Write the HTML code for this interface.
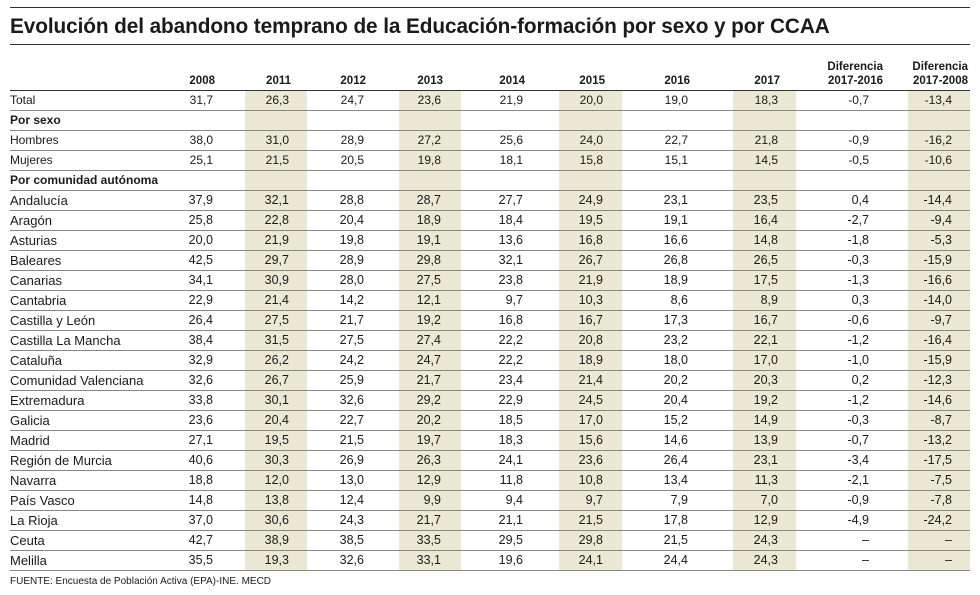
<!DOCTYPE html>
<html><head><meta charset="utf-8"><style>
body{margin:0;background:#fff;width:980px;height:595px;position:relative;overflow:hidden;font-family:"Liberation Sans",sans-serif;color:#1a1a1a}
.hl{position:absolute;left:10px;width:960px;background:#333}
.title{position:absolute;left:10px;top:15px;font-size:20.8px;font-weight:bold;letter-spacing:-0.1px;white-space:nowrap}
table{position:absolute;left:10px;top:55px;border-collapse:collapse;table-layout:fixed;width:960px}
td,th{padding:0;text-align:right;white-space:nowrap;overflow:visible}
th{font-size:11.5px;font-weight:bold;height:33px;vertical-align:bottom;padding-bottom:2px;line-height:14px;border-bottom:1.5px solid #333}
td{height:19px;font-size:12px;border-bottom:1px solid #888;line-height:19px}
td:first-child,th:first-child{text-align:left}
tr.c td{font-size:12.5px}
tr.c td:first-child{font-size:13px}
tr.s td:first-child{font-weight:bold}
.sh{background:#ebe8d4}
.foot{position:absolute;left:10px;top:576px;font-size:10px}
</style></head><body>
<div class="hl" style="top:7px;height:1px"></div>
<div class="title">Evolución del abandono temprano de la Educación-formación por sexo y por CCAA</div>
<div class="hl" style="top:44px;height:1px"></div>
<table>
<colgroup><col style="width:170px"><col style="width:65px"><col style="width:62px"><col style="width:92px"><col style="width:62px"><col style="width:98px"><col style="width:63px"><col style="width:111px"><col style="width:63px"><col style="width:112px"><col style="width:62px"></colgroup>
<tr><th></th><th style="padding-right:30px">2008</th><th style="padding-right:16px">2011</th><th style="padding-right:33px">2012</th><th style="padding-right:18px">2013</th><th style="padding-right:34px">2014</th><th style="padding-right:17px">2015</th><th style="padding-right:43px">2016</th><th style="padding-right:16px">2017</th><th style="padding-right:25px">Diferencia<br>2017-2016</th><th style="padding-right:2px">Diferencia<br>2017-2008</th></tr>
<tbody id="b">
<tr><td>Total</td><td>31,7</td><td class="sh">26,3</td><td>24,7</td><td class="sh">23,6</td><td>21,9</td><td class="sh">20,0</td><td>19,0</td><td class="sh">18,3</td><td>-0,7</td><td class="sh">-13,4</td></tr>
<tr class="s"><td>Por sexo</td><td></td><td class="sh"></td><td></td><td class="sh"></td><td></td><td class="sh"></td><td></td><td class="sh"></td><td></td><td class="sh"></td></tr>
<tr><td>Hombres</td><td>38,0</td><td class="sh">31,0</td><td>28,9</td><td class="sh">27,2</td><td>25,6</td><td class="sh">24,0</td><td>22,7</td><td class="sh">21,8</td><td>-0,9</td><td class="sh">-16,2</td></tr>
<tr><td>Mujeres</td><td>25,1</td><td class="sh">21,5</td><td>20,5</td><td class="sh">19,8</td><td>18,1</td><td class="sh">15,8</td><td>15,1</td><td class="sh">14,5</td><td>-0,5</td><td class="sh">-10,6</td></tr>
<tr class="s"><td>Por comunidad autónoma</td><td></td><td class="sh"></td><td></td><td class="sh"></td><td></td><td class="sh"></td><td></td><td class="sh"></td><td></td><td class="sh"></td></tr>
<tr class="c"><td>Andalucía</td><td>37,9</td><td class="sh">32,1</td><td>28,8</td><td class="sh">28,7</td><td>27,7</td><td class="sh">24,9</td><td>23,1</td><td class="sh">23,5</td><td>0,4</td><td class="sh">-14,4</td></tr>
<tr class="c"><td>Aragón</td><td>25,8</td><td class="sh">22,8</td><td>20,4</td><td class="sh">18,9</td><td>18,4</td><td class="sh">19,5</td><td>19,1</td><td class="sh">16,4</td><td>-2,7</td><td class="sh">-9,4</td></tr>
<tr class="c"><td>Asturias</td><td>20,0</td><td class="sh">21,9</td><td>19,8</td><td class="sh">19,1</td><td>13,6</td><td class="sh">16,8</td><td>16,6</td><td class="sh">14,8</td><td>-1,8</td><td class="sh">-5,3</td></tr>
<tr class="c"><td>Baleares</td><td>42,5</td><td class="sh">29,7</td><td>28,9</td><td class="sh">29,8</td><td>32,1</td><td class="sh">26,7</td><td>26,8</td><td class="sh">26,5</td><td>-0,3</td><td class="sh">-15,9</td></tr>
<tr class="c"><td>Canarias</td><td>34,1</td><td class="sh">30,9</td><td>28,0</td><td class="sh">27,5</td><td>23,8</td><td class="sh">21,9</td><td>18,9</td><td class="sh">17,5</td><td>-1,3</td><td class="sh">-16,6</td></tr>
<tr class="c"><td>Cantabria</td><td>22,9</td><td class="sh">21,4</td><td>14,2</td><td class="sh">12,1</td><td>9,7</td><td class="sh">10,3</td><td>8,6</td><td class="sh">8,9</td><td>0,3</td><td class="sh">-14,0</td></tr>
<tr class="c"><td>Castilla y León</td><td>26,4</td><td class="sh">27,5</td><td>21,7</td><td class="sh">19,2</td><td>16,8</td><td class="sh">16,7</td><td>17,3</td><td class="sh">16,7</td><td>-0,6</td><td class="sh">-9,7</td></tr>
<tr class="c"><td>Castilla La Mancha</td><td>38,4</td><td class="sh">31,5</td><td>27,5</td><td class="sh">27,4</td><td>22,2</td><td class="sh">20,8</td><td>23,2</td><td class="sh">22,1</td><td>-1,2</td><td class="sh">-16,4</td></tr>
<tr class="c"><td>Cataluña</td><td>32,9</td><td class="sh">26,2</td><td>24,2</td><td class="sh">24,7</td><td>22,2</td><td class="sh">18,9</td><td>18,0</td><td class="sh">17,0</td><td>-1,0</td><td class="sh">-15,9</td></tr>
<tr class="c"><td>Comunidad Valenciana</td><td>32,6</td><td class="sh">26,7</td><td>25,9</td><td class="sh">21,7</td><td>23,4</td><td class="sh">21,4</td><td>20,2</td><td class="sh">20,3</td><td>0,2</td><td class="sh">-12,3</td></tr>
<tr class="c"><td>Extremadura</td><td>33,8</td><td class="sh">30,1</td><td>32,6</td><td class="sh">29,2</td><td>22,9</td><td class="sh">24,5</td><td>20,4</td><td class="sh">19,2</td><td>-1,2</td><td class="sh">-14,6</td></tr>
<tr class="c"><td>Galicia</td><td>23,6</td><td class="sh">20,4</td><td>22,7</td><td class="sh">20,2</td><td>18,5</td><td class="sh">17,0</td><td>15,2</td><td class="sh">14,9</td><td>-0,3</td><td class="sh">-8,7</td></tr>
<tr class="c"><td>Madrid</td><td>27,1</td><td class="sh">19,5</td><td>21,5</td><td class="sh">19,7</td><td>18,3</td><td class="sh">15,6</td><td>14,6</td><td class="sh">13,9</td><td>-0,7</td><td class="sh">-13,2</td></tr>
<tr class="c"><td>Región de Murcia</td><td>40,6</td><td class="sh">30,3</td><td>26,9</td><td class="sh">26,3</td><td>24,1</td><td class="sh">23,6</td><td>26,4</td><td class="sh">23,1</td><td>-3,4</td><td class="sh">-17,5</td></tr>
<tr class="c"><td>Navarra</td><td>18,8</td><td class="sh">12,0</td><td>13,0</td><td class="sh">12,9</td><td>11,8</td><td class="sh">10,8</td><td>13,4</td><td class="sh">11,3</td><td>-2,1</td><td class="sh">-7,5</td></tr>
<tr class="c"><td>País Vasco</td><td>14,8</td><td class="sh">13,8</td><td>12,4</td><td class="sh">9,9</td><td>9,4</td><td class="sh">9,7</td><td>7,9</td><td class="sh">7,0</td><td>-0,9</td><td class="sh">-7,8</td></tr>
<tr class="c"><td>La Rioja</td><td>37,0</td><td class="sh">30,6</td><td>24,3</td><td class="sh">21,7</td><td>21,1</td><td class="sh">21,5</td><td>17,8</td><td class="sh">12,9</td><td>-4,9</td><td class="sh">-24,2</td></tr>
<tr class="c"><td>Ceuta</td><td>42,7</td><td class="sh">38,9</td><td>38,5</td><td class="sh">33,5</td><td>29,5</td><td class="sh">29,8</td><td>21,5</td><td class="sh">24,3</td><td>–</td><td class="sh">–</td></tr>
<tr class="c"><td>Melilla</td><td>35,5</td><td class="sh">19,3</td><td>32,6</td><td class="sh">33,1</td><td>19,6</td><td class="sh">24,1</td><td>24,4</td><td class="sh">24,3</td><td>–</td><td class="sh">–</td></tr>
</tbody></table>
<style>
#b td:nth-child(2){padding-right:32px}#b td:nth-child(3){padding-right:18px}#b td:nth-child(4){padding-right:35px}#b td:nth-child(5){padding-right:20px}#b td:nth-child(6){padding-right:36px}#b td:nth-child(7){padding-right:19px}#b td:nth-child(8){padding-right:45px}#b td:nth-child(9){padding-right:18px}#b td:nth-child(10){padding-right:39px}#b td:nth-child(11){padding-right:18px}
</style>
<div class="foot">FUENTE: Encuesta de Población Activa (EPA)-INE. MECD</div>
</body></html>
